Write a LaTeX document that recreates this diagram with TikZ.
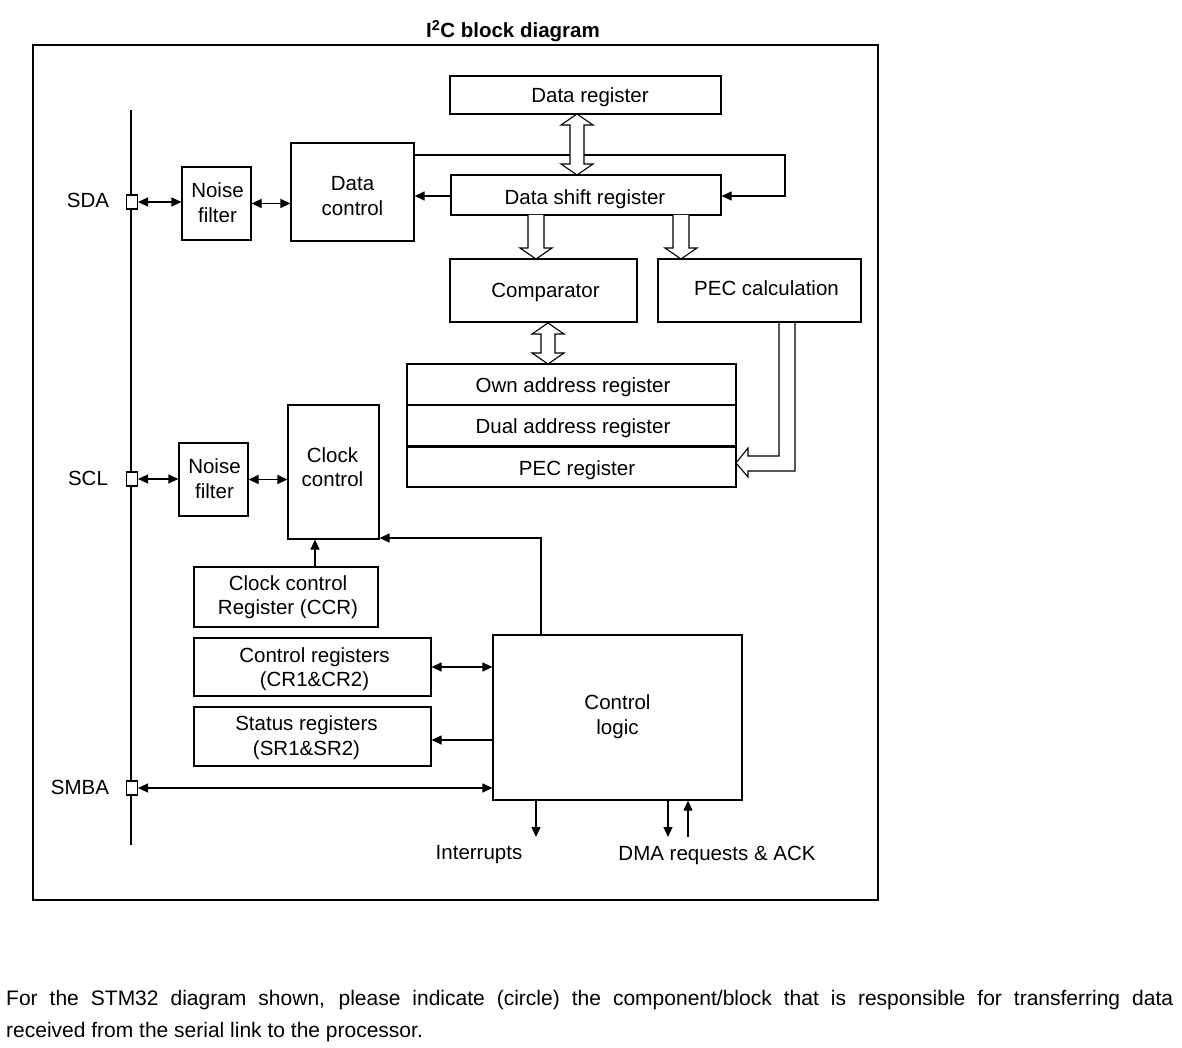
\documentclass[tikz,border=0pt]{standalone}
\usepackage{fontspec}
\setmainfont{Liberation Sans}
\usetikzlibrary{arrows.meta,calc}
\tikzset{
  box/.style={draw, line width=1.2pt, inner sep=0pt},
  lbl/.style={inner sep=0pt, align=center, font=\fontsize{20.5}{24.5}\selectfont},
  conn/.style={line width=1.2pt},
  arr/.style={conn, -{Triangle[length=10pt,width=9pt]}},
  arrtwo/.style={conn, {Triangle[length=10pt,width=9pt]}-{Triangle[length=10pt,width=9pt]}},
  hollow/.style={line width=1.1pt, fill=white, line join=miter},
  pinsq/.style={draw, fill=white, line width=1.1pt, minimum width=11pt, minimum height=14pt, inner sep=0pt},
}
% \blk{name}{x1}{y1}{x2}{y2}{dx}{dy}{text}
\newcommand\blk[8]{\node[box, minimum width={(#4-#2)*1pt}, minimum height={(#5-#3)*1pt}] (#1) at ({(#2+#4)/2},{(#3+#5)/2}) {};
  \node[lbl] (#1t) at ($(#1.center)+(#6,#7)$) {#8};}
\newcommand\hollowdbl[3]{\draw[hollow] (#1,#2) -- (#1+16,#2+11) -- (#1+7,#2+11) -- (#1+7,#3-11) -- (#1+16,#3-11) -- (#1,#3) -- (#1-16,#3-11) -- (#1-7,#3-11) -- (#1-7,#2+11) -- (#1-16,#2+11) -- cycle;}
\newcommand\hollowdown[3]{\draw[hollow] (#1-8,#2) -- (#1-8,#3-11) -- (#1-16,#3-11) -- (#1,#3) -- (#1+16,#3-11) -- (#1+8,#3-11) -- (#1+8,#2);}
\begin{document}
\begin{tikzpicture}[x=1pt,y=-1pt]
\useasboundingbox (0,0) rectangle (1182,1048);
\fill[white] (0,0) rectangle (1182,1048);

% title and frame
\node[lbl, font=\fontsize{20.5}{24}\selectfont\bfseries] (title) at (513,31) {I\textsuperscript{2}C block diagram};
\draw[line width=1.3pt] (33,45) rectangle (878,900);

% bus
\coordinate (bustop) at (131,110);
\coordinate (busbot) at (131,845);
\draw[line width=2.5pt] (bustop) -- (busbot);
\node[pinsq] (psda) at (132,202) {};
\node[pinsq] (pscl) at (132,479) {};
\node[pinsq] (psmba) at (132,788) {};
\node[lbl] (lsda) at (88,200) {SDA};
\node[lbl] (lscl) at (88,478) {SCL};
\node[lbl] (lsmba) at (80,787) {SMBA};

% blocks
\blk{dr}{450}{76}{721}{114}{4.5}{2}{Data register}
\blk{dsr}{451}{175}{721}{215}{-1}{4}{Data shift register}
\blk{dc}{291}{143}{414}{241}{0}{4}{Data\\control}
\blk{nfa}{182}{167}{251}{240}{1}{-1}{Noise\\filter}
\blk{cmp}{450}{259}{637}{322}{2}{2}{Comparator}
\blk{pec}{658}{259}{861}{322}{7}{-2}{PEC calculation}
\blk{oar}{407}{364}{736}{405}{1.5}{3}{Own address register}
\blk{dar}{407}{405}{736}{446}{1.5}{3}{Dual address register}
\blk{pecr}{407}{446}{736}{487}{5.5}{4}{PEC register}
\draw[line width=2pt] (dar.south west) -- (dar.south east);
\blk{nfb}{179}{443}{248}{516}{1}{-1}{Noise\\filter}
\blk{cc}{288}{405}{379}{539}{-1}{-5}{Clock\\control}
\blk{ccr}{194}{567}{378}{627}{2}{0}{Clock control\\Register (CCR)}
\blk{cr}{194}{638}{431}{696}{2}{2}{Control registers\\(CR1\&CR2)}
\blk{sr}{194}{707}{431}{766}{-6}{1}{Status registers\\(SR1\&SR2)}
\blk{cl}{493}{635}{742}{800}{0}{-1}{Control\\logic}

% SDA path
\draw[arrtwo] (psda.east) -- (nfa.west |- psda);
\draw[arrtwo] (nfa.east) -- (dc.west |- nfa.east);
\draw[arr] (dsr.west |- 0,196) -- (dc.east |- 0,196);
\coordinate (fbr) at (785,155);
\draw[arr] (dc.east |- fbr) -- (fbr) -- (fbr |- 0,196) -- (dsr.east |- 0,196);

% SCL path
\draw[arrtwo] (pscl.east) -- (nfb.west |- pscl);
\draw[arrtwo] (nfb.east) -- (cc.west |- nfb.east);
\draw[arr] (ccr.north -| 315,0) -- (cc.south -| 315,0);
\coordinate (clk) at (541,538);
\draw[arr] (cl.north -| clk) -- (clk) -- (cc.east |- clk);

% control logic connections
\draw[arrtwo] (cr.east |- 0,667) -- (cl.west |- 0,667);
\draw[arr] (cl.west |- 0,740) -- (sr.east |- 0,740);
\draw[arrtwo] (psmba.east) -- (cl.west |- psmba);

% outputs
\coordinate (intend) at (536,837);
\coordinate (dmaa) at (668,837);
\coordinate (dmab) at (688,837);
\draw[arr] (cl.south -| intend) -- (intend);
\draw[arr] (cl.south -| dmaa) -- (dmaa);
\draw[arr] (dmab) -- (cl.south -| dmab);
\node[lbl] (lint) at (479,855) {Interrupts};
\node[lbl] (ldma) at (717,855) {DMA requests \& ACK};

% hollow (bus) arrows
\hollowdbl{577}{114}{175}
\hollowdown{536}{215}{259}
\hollowdown{681}{215}{259}
\hollowdbl{548}{323}{364}
\draw[line width=1.1pt, line join=miter] (779,322) -- (779,456) -- (748,456) -- (748,448) -- (736,463) -- (748,477) -- (748,471) -- (795,471) -- (795,322);

% caption
\node[anchor=north west, inner sep=0pt, text width=1167pt, align=justify, font=\fontsize{21}{32}\selectfont] (cap) at (6,990)
 {For the STM32 diagram shown, please indicate (circle) the component/block that is responsible for transferring data\linebreak received from the serial link to the processor.};
\end{tikzpicture}
\end{document}
